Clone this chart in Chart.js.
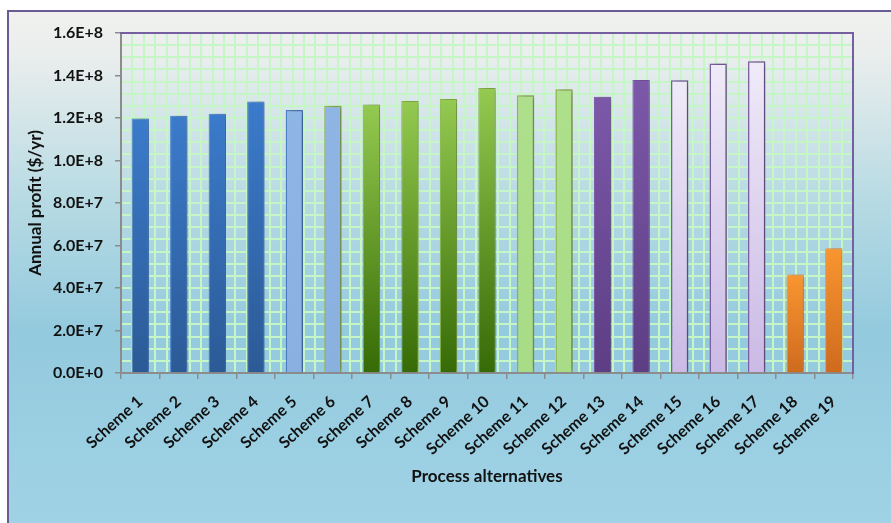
<!DOCTYPE html>
<html>
<head>
<meta charset="utf-8">
<script src="https://cdn.jsdelivr.net/npm/chart.js@4/dist/chart.umd.min.js"></script>
<style>
  html, body { margin: 0; padding: 0; background: #fff; overflow: hidden; width: 891px; height: 523px; }
  #frame {
    position: absolute; left: 7px; top: 10px; width: 900px; height: 530px;
    border: 2px solid #6b5b94;
    background: linear-gradient(to bottom, #f0f1ef 0%, #eaeeed 8%, #b6dae3 36%, #94cade 60%, #a1d3e6 100%);
  }
  #wrap { position: absolute; left: 0; top: 0; width: 891px; height: 523px; }
</style>
</head>
<body>
<div id="frame"></div>
<div id="wrap"><canvas id="profit_chart"></canvas></div>
<script>
const schemes = ['Scheme 1', 'Scheme 2', 'Scheme 3', 'Scheme 4', 'Scheme 5', 'Scheme 6', 'Scheme 7',
                 'Scheme 8', 'Scheme 9', 'Scheme 10', 'Scheme 11', 'Scheme 12', 'Scheme 13', 'Scheme 14',
                 'Scheme 15', 'Scheme 16', 'Scheme 17', 'Scheme 18', 'Scheme 19'];
const annualProfit = [1.198e8, 1.211e8, 1.220e8, 1.278e8, 1.238e8, 1.258e8, 1.264e8,
                      1.280e8, 1.290e8, 1.341e8, 1.307e8, 1.335e8, 1.300e8, 1.379e8,
                      1.378e8, 1.457e8, 1.467e8, 4.64e7, 5.87e7];
const yTickValues = [0, 2e7, 4e7, 6e7, 8e7, 1e8, 1.2e8, 1.4e8, 1.6e8];

// bar colours: top / bottom of gradient, outline
const topColors = ['#3b7bcb', '#3b7bcb', '#3b7bcb', '#3b7bcb', '#8fb5e4', '#8fb5e4',
                   '#94ca50', '#94ca50', '#94ca50', '#94ca50', '#aee08b', '#aee08b',
                   '#7c58a9', '#7c58a9', '#efeaf8', '#efeaf8', '#efeaf8', '#f99630', '#f99630'];
const bottomColors = ['#2c5a96', '#2c5a96', '#2c5a96', '#2c5a96', '#8ab0e0', '#8ab0e0',
                      '#366a06', '#366a06', '#366a06', '#366a06', '#a9dc86', '#a9dc86',
                      '#5d3e84', '#5d3e84', '#cbbae5', '#cbbae5', '#cbbae5', '#cf6a1e', '#cf6a1e'];
const borderColors = ['#4a86d0', '#4a86d0', '#4a86d0', '#4a86d0', '#4f82c4', '#9bbb59',
                      '#8fb84e', '#8fb84e', '#8fb84e', '#8fb84e', '#98b954', '#98b954',
                      '#7c58a9', '#7c58a9', '#7f63a6', '#7f63a6', '#7f63a6', '#f9a04a', '#f9a04a'];
const borderWidths = [1, 1, 1, 1, 1.5, 1.5, 1, 1, 1, 1, 1.5, 1.5, 1, 1, 1.5, 1.5, 1.5, 1, 1];

const gridGreen = '#c6f6c6';
const axisGrey = '#8c8c8c';
const framePurple = '#765ea0';
const boldFont = (size) => ({ family: "Lato, 'Open Sans', sans-serif", size: size, weight: 'bold' });

// soft shadow to the right of the bars
const barShadow = {
    id: 'barShadow',
    beforeDatasetsDraw(chart) {
        const c = chart.ctx;
        c.save();
        c.shadowColor = 'rgba(0, 0, 0, 0.33)';
        c.shadowBlur = 6;
        c.shadowOffsetX = 3;
        c.shadowOffsetY = 0;
    },
    afterDatasetsDraw(chart) {
        chart.ctx.restore();
    }
};

const ctx = document.getElementById('profit_chart').getContext('2d');

const profit_chart = new Chart(ctx, {
    type: 'bar',
    data: {
        labels: schemes,
        datasets: [{
            label: 'Annual profit',
            data: annualProfit,
            backgroundColor: (c) => {
                const i = c.dataIndex;
                const yScale = c.chart.scales.y;
                if (!yScale || c.raw === undefined) return topColors[i];
                const top = yScale.getPixelForValue(c.raw);
                const bottom = yScale.getPixelForValue(0);
                if (!isFinite(top) || !isFinite(bottom) || top === bottom) return topColors[i];
                const g = c.chart.ctx.createLinearGradient(0, top, 0, bottom);
                g.addColorStop(0, topColors[i]);
                g.addColorStop(1, bottomColors[i]);
                return g;
            },
            borderColor: borderColors,
            borderWidth: borderWidths,
            barPercentage: 0.45,
            categoryPercentage: 1,
            xAxisID: 'x',
            yAxisID: 'y'
        }]
    },
    options: {
        responsive: true,
        maintainAspectRatio: false,
        animation: false,
        layout: { padding: { left: 0, top: 33, right: 38, bottom: 0 } },
        plugins: {
            legend: { display: false },
            tooltip: { enabled: false }
        },
        scales: {
            x: {
                type: 'category',
                position: 'bottom',
                offset: true,
                grid: { offset: true, drawOnChartArea: false, tickLength: 6, color: axisGrey, lineWidth: 1.5 },
                border: { color: axisGrey, width: 2 },
                ticks: { color: '#111', font: boldFont(16), minRotation: 42, maxRotation: 42, autoSkip: false, padding: 13 },
                title: { display: true, text: 'Process alternatives', color: '#111', font: boldFont(17), padding: { top: 0, bottom: 36 } },
                afterFit: (s) => { s.height = 150; }
            },
            y: {
                type: 'linear',
                position: 'left',
                min: 0,
                max: 1.6e8,
                afterBuildTicks: (s) => { s.ticks = yTickValues.map(v => ({ value: v })); },
                ticks: {
                    color: '#111',
                    font: boldFont(16),
                    padding: 12,
                    callback: (v) => Number(v).toExponential(1).replace('e', 'E')
                },
                grid: { drawOnChartArea: false, tickLength: 6, color: axisGrey, lineWidth: 1.5 },
                border: { color: axisGrey, width: 2 },
                title: { display: true, text: 'Annual profit ($/yr)', color: '#111', font: boldFont(17), padding: { top: 25, bottom: 0 } },
                afterFit: (s) => { s.width = 121; }
            },
            // background pattern grid of the plot area
            x2: {
                type: 'linear',
                position: 'top',
                min: 0,
                max: 63,
                ticks: { display: false, stepSize: 1 },
                grid: {
                    drawTicks: false,
                    lineWidth: 2,
                    color: (c) => (c.index === 0 ? 'rgba(0,0,0,0)' : gridGreen)
                },
                border: { color: framePurple, width: 2 },
                afterFit: (s) => { s.height = 0; }
            },
            y2: {
                type: 'linear',
                position: 'right',
                min: 0,
                max: 28,
                ticks: { display: false, stepSize: 1 },
                grid: {
                    drawTicks: false,
                    lineWidth: 2,
                    color: (c) => (c.index === 0 ? 'rgba(0,0,0,0)' : gridGreen)
                },
                border: { color: framePurple, width: 2 },
                afterFit: (s) => { s.width = 0; }
            }
        }
    },
    plugins: [barShadow]
});
</script>
</body>
</html>
